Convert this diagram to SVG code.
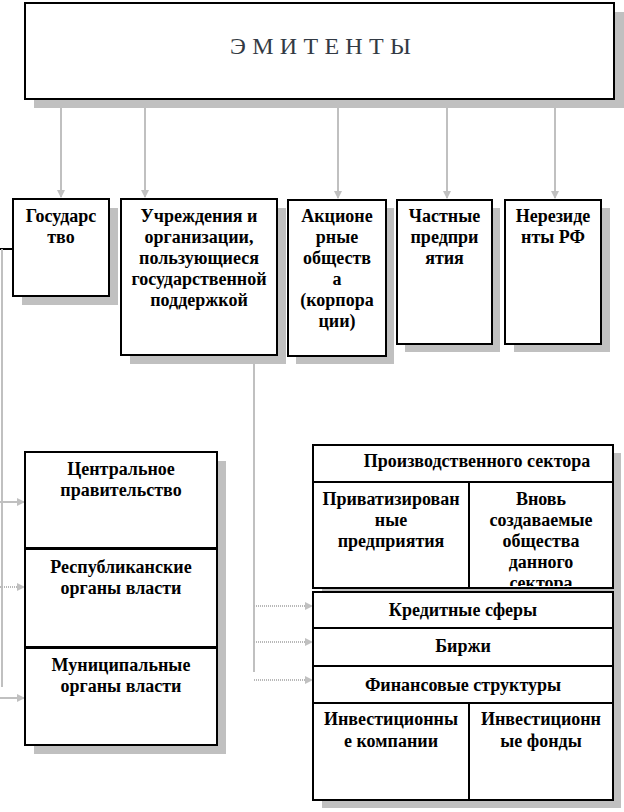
<svg xmlns="http://www.w3.org/2000/svg" width="624" height="812" viewBox="0 0 624 812">
<defs>
<marker id="ah" markerWidth="8" markerHeight="8" refX="7" refY="4" orient="auto" markerUnits="userSpaceOnUse">
<path d="M0,0 L8,4 L0,8 Z" fill="#c0c0c0"/>
</marker>
<clipPath id="clipNew"><rect x="470" y="483" width="142" height="103"/></clipPath>
</defs>
<style>
.box{fill:#ffffff;stroke:#000000;stroke-width:2}
.sh{fill:#c0c0c0}
.t{font-family:"Liberation Serif","Times New Roman",serif;font-weight:bold;font-size:18px;fill:#000000;text-anchor:middle}
.ln{stroke:#c0c0c0;stroke-width:2;fill:none}
.dt{stroke:#b8b8b8;stroke-width:2;fill:none;stroke-dasharray:1 1}
</style>
<rect width="624" height="812" fill="#ffffff"/>

<g id="emitenty">
<rect class="sh" x="34" y="12" width="592" height="96"/>
<rect class="box" x="25" y="3" width="589" height="96"/>
<text x="230" y="54" font-family="Liberation Serif, Times New Roman, serif" font-size="24" letter-spacing="6.3" fill="#333a44">ЭМИТЕНТЫ</text>
</g>

<g id="connectors">
<line class="ln" x1="61" y1="108" x2="61" y2="197" marker-end="url(#ah)"/>
<line class="ln" x1="145" y1="108" x2="145" y2="197" marker-end="url(#ah)"/>
<line class="ln" x1="338" y1="108" x2="338" y2="198" marker-end="url(#ah)"/>
<line class="ln" x1="447" y1="108" x2="447" y2="198" marker-end="url(#ah)"/>
<line class="ln" x1="555" y1="108" x2="555" y2="198" marker-end="url(#ah)"/>
<line x1="0" y1="249" x2="13" y2="249" stroke="#000000" stroke-width="2"/>
<line class="ln" x1="2" y1="249" x2="2" y2="687"/>
<line class="ln" x1="0" y1="502" x2="24" y2="502" marker-end="url(#ah)"/>
<line class="dt" x1="0" y1="587" x2="24" y2="587" marker-end="url(#ah)"/>
<line class="ln" x1="0" y1="698" x2="24" y2="698" marker-end="url(#ah)"/>
<line class="ln" x1="254" y1="356" x2="254" y2="672"/>
<line class="dt" x1="254" y1="606" x2="312" y2="606" marker-end="url(#ah)"/>
<line class="dt" x1="254" y1="642" x2="312" y2="642" marker-end="url(#ah)"/>
<line class="dt" x1="254" y1="680" x2="312" y2="680" marker-end="url(#ah)"/>
</g>

<g id="gosudarstvo">
<rect class="sh" x="22" y="208" width="96" height="97"/>
<rect class="box" x="13" y="199" width="96" height="97"/>
<text class="t" x="61" y="222">Государс</text>
<text class="t" x="61" y="243">тво</text>
</g>

<g id="uchrezhdeniya">
<rect class="sh" x="130" y="208" width="156" height="156"/>
<rect class="box" x="121" y="199" width="156" height="156"/>
<text class="t" x="199" y="222">Учреждения и</text>
<text class="t" x="199" y="243">организации,</text>
<text class="t" x="199" y="264">пользующиеся</text>
<text class="t" x="199" y="285">государственной</text>
<text class="t" x="199" y="306">поддержкой</text>
</g>

<g id="akcionernye">
<rect class="sh" x="296" y="208" width="98" height="156"/>
<rect class="box" x="288" y="200" width="98" height="156"/>
<text class="t" x="337" y="222">Акционе</text>
<text class="t" x="337" y="243">рные</text>
<text class="t" x="337" y="264">обществ</text>
<text class="t" x="337" y="285">а</text>
<text class="t" x="337" y="306">(корпора</text>
<text class="t" x="337" y="327">ции)</text>
</g>

<g id="chastnye">
<rect class="sh" x="405" y="208" width="95" height="144"/>
<rect class="box" x="397" y="200" width="95" height="144"/>
<text class="t" x="444.5" y="222">Частные</text>
<text class="t" x="444.5" y="243">предпри</text>
<text class="t" x="444.5" y="264">ятия</text>
</g>

<g id="nerezidenty">
<rect class="sh" x="514" y="208" width="96" height="144"/>
<rect class="box" x="505" y="200" width="96" height="144"/>
<text class="t" x="553" y="222">Нерезиде</text>
<text class="t" x="553" y="243">нты РФ</text>
</g>

<g id="gov-levels">
<rect class="sh" x="34" y="461" width="192" height="293"/>
<g id="centralnoe">
<rect class="box" x="25" y="452" width="192" height="96"/>
<text class="t" x="121" y="475">Центральное</text>
<text class="t" x="121" y="496">правительство</text>
</g>
<g id="respublikanskie">
<rect class="box" x="25" y="549" width="192" height="98"/>
<text class="t" x="121" y="573">Республиканские</text>
<text class="t" x="121" y="594">органы власти</text>
</g>
<g id="municipalnye">
<rect class="box" x="25" y="648" width="192" height="97"/>
<text class="t" x="121" y="671">Муниципальные</text>
<text class="t" x="121" y="692">органы власти</text>
</g>
</g>

<g id="sectors">
<rect class="sh" x="322" y="453" width="299" height="355"/>
<g id="proizvodstvennogo">
<rect class="box" x="313" y="445" width="300" height="37"/>
<text class="t" x="477" y="467">Производственного сектора</text>
</g>
<g id="privatizirovannye">
<rect class="box" x="313" y="482" width="156" height="106"/>
<text class="t" x="391" y="505">Приватизирован</text>
<text class="t" x="391" y="526">ные</text>
<text class="t" x="391" y="547">предприятия</text>
</g>
<g id="vnov">
<rect class="box" x="469" y="482" width="144" height="106"/>
<g clip-path="url(#clipNew)">
<text class="t" x="541" y="505">Вновь</text>
<text class="t" x="541" y="526">создаваемые</text>
<text class="t" x="541" y="547">общества</text>
<text class="t" x="541" y="568">данного</text>
<text class="t" x="541" y="589">сектора</text>
</g>
</g>
<g id="kreditnye">
<rect class="box" x="313" y="592" width="300" height="36"/>
<text class="t" x="463" y="616">Кредитные сферы</text>
</g>
<g id="birzhi">
<rect class="box" x="313" y="628" width="300" height="38"/>
<text class="t" x="463" y="652">Биржи</text>
</g>
<g id="finansovye">
<rect class="box" x="313" y="666" width="300" height="37"/>
<text class="t" x="463" y="691">Финансовые структуры</text>
</g>
<g id="invest-kompanii">
<rect class="box" x="313" y="703" width="156" height="97"/>
<text class="t" x="391" y="725">Инвестиционны</text>
<text class="t" x="391" y="747">е компании</text>
</g>
<g id="invest-fondy">
<rect class="box" x="469" y="703" width="144" height="97"/>
<text class="t" x="541" y="725">Инвестиционн</text>
<text class="t" x="541" y="747">ые фонды</text>
</g>
</g>
</svg>
